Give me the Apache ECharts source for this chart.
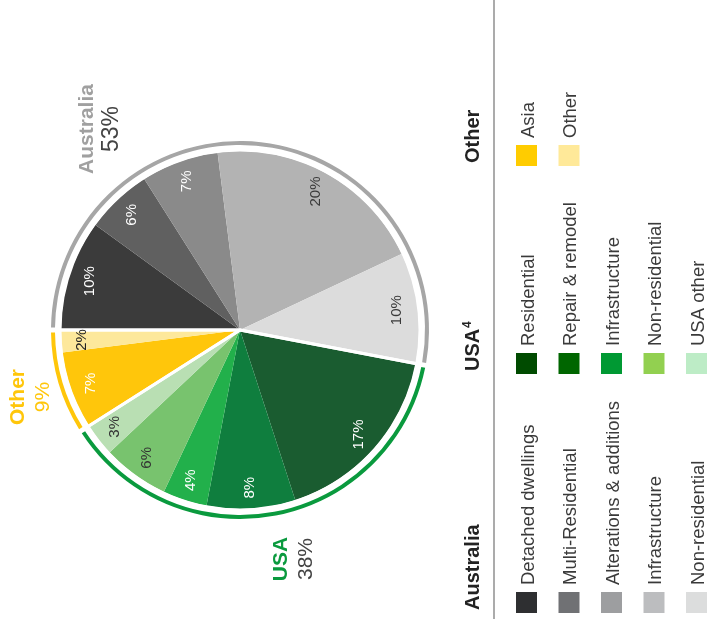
<!DOCTYPE html>
<html>
<head>
<meta charset="utf-8">
<script src="https://cdn.jsdelivr.net/npm/echarts@6/dist/echarts.min.js"></script>
<style>
html,body{margin:0;padding:0;background:#fff;}
#chart{width:711px;height:619px;}
</style>
</head>
<body>
<div id="chart"></div>
<script>
// ---------- data ----------
const groupNames = ['Australia', 'USA', 'Other'];
const groupShares = [53, 38, 9];

const ausCats = ['Detached dwellings', 'Multi-Residential', 'Alterations & additions', 'Infrastructure', 'Non-residential'];
const ausValues = [10, 6, 7, 20, 10];

const usaCats = ['Residential', 'Repair & remodel', 'Infrastructure', 'Non-residential', 'USA other'];
const usaValues = [17, 8, 4, 6, 3];

const otherCats = ['Asia', 'Other'];
const otherValues = [7, 2];

// ---------- styles ----------
const FONT = '"Liberation Sans", Arial, Helvetica, sans-serif';
const groupArcColors = ['#a6a6a6', '#0a9a3e', '#ffc60a'];
const groupTitleColors = ['#a0a0a0', '#0a9a3e', '#ffc60a'];
const groupShareColors = ['#444444', '#444444', '#ffc60a'];

const ausSlice = ['#3b3b3b', '#606060', '#8a8a8a', '#b3b3b3', '#dcdcdc'];
const usaSlice = ['#1a5c30', '#0f7e3e', '#22b04b', '#78c36e', '#b9dfb3'];
const otherSlice = ['#ffc60b', '#fde89b'];

const ausLabelCol = ['#ffffff', '#ffffff', '#ffffff', '#3a3a3a', '#3a3a3a'];
const usaLabelCol = ['#ffffff', '#ffffff', '#ffffff', '#333333', '#333333'];
const otherLabelCol = ['#ffffff', '#222222'];

const ausSwatch = ['#2e2f31', '#707174', '#9d9ea0', '#bcbdbf', '#dcdddd'];
const usaSwatch = ['#004b00', '#006600', '#009933', '#92d050', '#bdecc6'];
const otherSwatch = ['#ffcc00', '#ffe999'];

const cats = [ausCats, usaCats, otherCats];
const vals = [ausValues, usaValues, otherValues];
const sliceCols = [ausSlice, usaSlice, otherSlice];
const labelCols = [ausLabelCol, usaLabelCol, otherLabelCol];
const swatchCols = [ausSwatch, usaSwatch, otherSwatch];

const CENTER = [240, 330];
const R = 179;

// ---------- pie data ----------
const sliceData = [];
const labelData = [];
cats.forEach((list, g) => {
  list.forEach((name, i) => {
    sliceData.push({ name: name, value: vals[g][i], itemStyle: { color: sliceCols[g][i] } });
    labelData.push({ name: name, value: vals[g][i], label: { color: labelCols[g][i] } });
  });
});
const groupData = groupNames.map((n, g) => ({ name: n, value: groupShares[g], itemStyle: { color: groupArcColors[g] } }));
const groupSepData = groupNames.map((n, g) => ({ name: n, value: groupShares[g] }));

// ---------- graphic (rotated titles, legend) ----------
const graphics = [];
function rtext(x, y, text, opts) {
  graphics.push({
    type: 'text', x: x, y: y, rotation: Math.PI / 2, silent: true,
    style: Object.assign({
      text: text, fill: '#333', fontFamily: FONT, fontSize: 18,
      textAlign: 'center', verticalAlign: 'middle', textVerticalAlign: 'middle'
    }, opts)
  });
}

// titles near pie
const titlePos = [
  { tx: 87, sx: 112, y: 129, sSize: 23 },
  { tx: 281, sx: 306, y: 559, sSize: 21 },
  { tx: 18.5, sx: 43, y: 397, sSize: 21 }
];
groupNames.forEach((n, g) => {
  const p = titlePos[g];
  rtext(p.tx, p.y, n, { fill: groupTitleColors[g], fontWeight: 'bold', fontSize: 21 });
  rtext(p.sx, p.y, groupShares[g] + '%', { fill: groupShareColors[g], fontSize: p.sSize });
});

// divider line
graphics.push({ type: 'line', silent: true, shape: { x1: 494, y1: 0, x2: 494, y2: 619 }, style: { stroke: '#ababab', lineWidth: 2 } });

// legend
const legendBase = [613, 374, 166];
const headerX = 473.5;
const colX0 = 526.5, colStep = 42.5, sw = 21;
groupNames.forEach((n, g) => {
  const base = legendBase[g];
  rtext(headerX, base - 3, n, { fill: '#222', fontWeight: 'bold', fontSize: 20, textAlign: 'left' });
  if (g === 1) {
    rtext(headerX - 6, base - 3 - 43, '4', { fill: '#222', fontWeight: 'bold', fontSize: 12, textAlign: 'left' });
  }
  cats[g].forEach((name, i) => {
    const cx = colX0 + i * colStep;
    graphics.push({ type: 'rect', silent: true, shape: { x: cx - sw / 2, y: base - sw, width: sw, height: sw }, style: { fill: swatchCols[g][i] } });
    rtext(cx + 2, base - sw - 7, name, { fill: '#3a3a3a', fontSize: 18.5, textAlign: 'left' });
  });
});

// ---------- chart ----------
const chart = echarts.init(document.getElementById('chart'), null, { renderer: 'canvas' });
chart.setOption({
  animation: false,
  backgroundColor: '#ffffff',
  series: [
    {
      type: 'pie', name: 'slices', center: CENTER, radius: [0, R],
      startAngle: 180, clockwise: true, silent: true,
      label: { show: false }, labelLine: { show: false },
      emphasis: { disabled: true },
      data: sliceData
    },
    {
      type: 'pie', name: 'separators', center: CENTER, radius: [0, R + 1],
      startAngle: 180, clockwise: true, silent: true,
      label: { show: false }, labelLine: { show: false },
      emphasis: { disabled: true },
      itemStyle: { color: 'rgba(0,0,0,0)', borderColor: '#ffffff', borderWidth: 3 },
      data: groupSepData
    },
    {
      type: 'pie', name: 'labels', center: CENTER, radius: [131, R],
      startAngle: 180, clockwise: true, silent: true,
      itemStyle: { color: 'rgba(0,0,0,0)' },
      label: {
        show: true, position: 'inside', rotate: 90,
        fontFamily: FONT, fontSize: 15,
        formatter: (p) => p.value + '%'
      },
      labelLine: { show: false },
      emphasis: { disabled: true },
      data: labelData
    },
    {
      type: 'pie', name: 'groups', center: CENTER, radius: [185, 189],
      startAngle: 180, clockwise: true, silent: true, padAngle: 1.5,
      label: { show: false }, labelLine: { show: false },
      emphasis: { disabled: true },
      data: groupData
    }
  ],
  graphic: { elements: graphics }
});
</script>
</body>
</html>
